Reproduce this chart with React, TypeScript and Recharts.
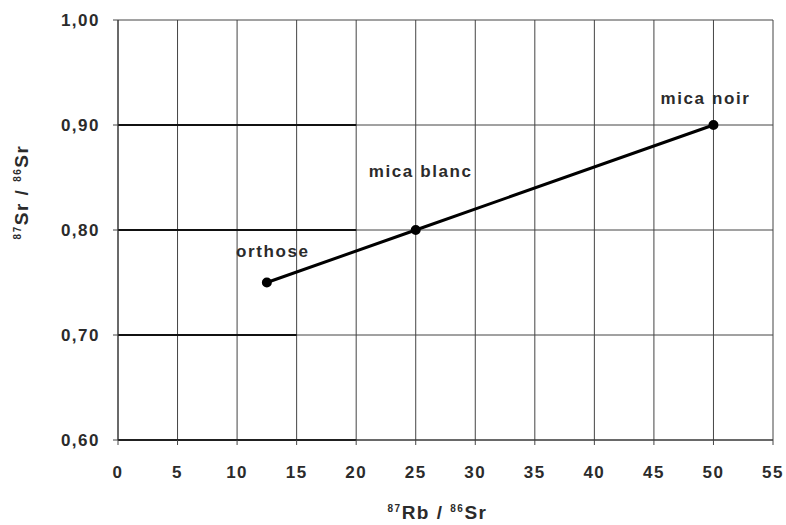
import React from "react";
import {
  ComposedChart,
  Line,
  XAxis,
  YAxis,
  CartesianGrid,
  ReferenceLine,
  LabelList,
  Label,
} from "recharts";

// ─── Data ─────────────────────────────────────────────────────────────────────
const minerals = ["orthose", "mica blanc", "mica noir"];
const rbSr = [12.5, 25, 50]; // 87Rb / 86Sr
const srSr = [0.75, 0.8, 0.9]; // 87Sr / 86Sr

const xTicks = [0, 5, 10, 15, 20, 25, 30, 35, 40, 45, 50, 55];
const yTicks = [0.6, 0.7, 0.8, 0.9, 1.0];

// darker stretches of the horizontal grid in the scan
const darkRunY = [0.9, 0.8, 0.7, 0.6];
const darkRunEnd = [20, 20, 15, 20];

const data = minerals.map((name, i) => ({ name, x: rbSr[i], y: srSr[i] }));

const FONT = "'Liberation Sans', Arial, sans-serif";
const INK = "#2b2b2b";

// label placement relative to each point (text baseline)
const labelShift = [
  { dx: 6, dy: -26 },
  { dx: 5, dy: -53 },
  { dx: -8, dy: -21 },
];

function XTick({ x, y, payload }: any) {
  return (
    <text
      x={x}
      y={y}
      dy="0.71em"
      textAnchor="middle"
      fill={INK}
      fontSize={17}
      fontWeight={700}
      fontFamily={FONT}
      letterSpacing={1.5}
    >
      {String(payload.value)}
    </text>
  );
}

function YTick({ x, y, payload }: any) {
  return (
    <text
      x={x}
      y={y}
      dy="0.355em"
      textAnchor="end"
      fill={INK}
      fontSize={17}
      fontWeight={700}
      fontFamily={FONT}
      letterSpacing={1.5}
    >
      {Number(payload.value).toFixed(2).replace(".", ",")}
    </text>
  );
}

function PointLabel({ x, y, index, value }: any) {
  const s = labelShift[index] ?? { dx: 0, dy: -20 };
  return (
    <text
      x={x + s.dx}
      y={y + s.dy}
      textAnchor="middle"
      fill={INK}
      fontSize={17}
      fontWeight={700}
      fontFamily={FONT}
      letterSpacing={1.6}
    >
      {value}
    </text>
  );
}

function IsotopeTitle({ a, b, c, x, y, rotate }: any) {
  return (
    <text
      x={x}
      y={y}
      textAnchor="middle"
      fill={INK}
      fontSize={19}
      fontWeight={700}
      fontFamily={FONT}
      letterSpacing={1.5}
      transform={rotate ? `rotate(-90 ${x} ${y})` : undefined}
    >
      <tspan fontSize={10} dy={-7}>{a}</tspan>
      <tspan dy={7}>{b} / </tspan>
      <tspan fontSize={10} dy={-7}>{c}</tspan>
      <tspan dy={7}>Sr</tspan>
    </text>
  );
}

export default function App() {
  return (
    <div style={{ position: "absolute", left: 0, top: 0, width: 786, height: 525, background: "#fff" }}>
      <ComposedChart
        width={786}
        height={525}
        data={data}
        margin={{ top: 20, right: 13, left: 0, bottom: 0 }}
      >
        <CartesianGrid stroke="#444" strokeWidth={1} />
        <XAxis
          dataKey="x"
          type="number"
          domain={[0, 55]}
          ticks={xTicks}
          interval={0}
          height={85}
          tickSize={5}
          tickMargin={21}
          tick={<XTick />}
          axisLine={{ stroke: "#333" }}
          tickLine={{ stroke: "#444" }}
        >
          <Label
            content={({ viewBox }: any) => (
              <IsotopeTitle
                a="87"
                b="Rb"
                c="86"
                x={viewBox.x + viewBox.width / 2 - 8}
                y={viewBox.y + 79}
              />
            )}
          />
        </XAxis>
        <YAxis
          type="number"
          domain={[0.6, 1.0]}
          ticks={yTicks}
          interval={0}
          width={118}
          tickSize={5}
          tickMargin={13}
          tick={<YTick />}
          axisLine={{ stroke: "#333" }}
          tickLine={{ stroke: "#444" }}
        >
          <Label
            content={({ viewBox }: any) => (
              <IsotopeTitle
                a="87"
                b="Sr"
                c="86"
                x={viewBox.x + 28}
                y={viewBox.y + viewBox.height / 2 - 38}
                rotate
              />
            )}
          />
        </YAxis>
        {darkRunY.map((v, i) => (
          <ReferenceLine
            key={v}
            segment={[
              { x: 0, y: v },
              { x: darkRunEnd[i], y: v },
            ]}
            stroke="#111"
            strokeWidth={2}
          />
        ))}
        <Line
          dataKey="y"
          type="linear"
          stroke="#000"
          strokeWidth={3}
          dot={{ r: 3.5, fill: "#000", stroke: "#000" }}
          activeDot={false}
          isAnimationActive={false}
        >
          <LabelList dataKey="name" content={<PointLabel />} />
        </Line>
      </ComposedChart>
    </div>
  );
}
